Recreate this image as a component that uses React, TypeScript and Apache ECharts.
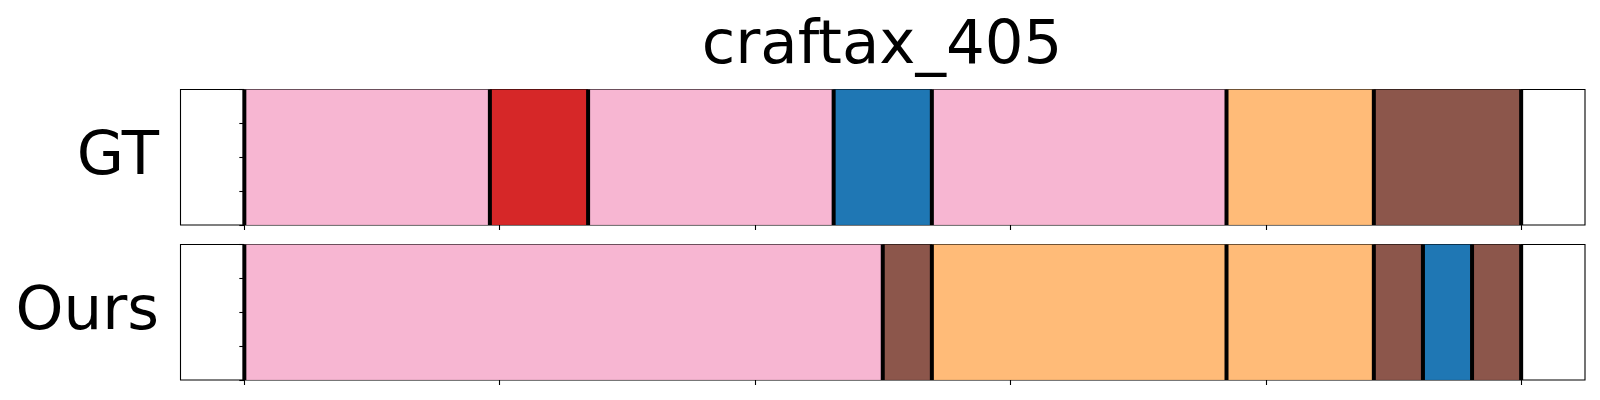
import React, { useEffect, useRef } from "react";
import * as echarts from "echarts";

// ---- data (time steps) ----
const TOTAL_STEPS = 26;
const X_TICKS = [0, 5.2, 10.4, 15.6, 20.8, 26];
const Y_TICKS_INTERVAL = 0.25;

const gtStarts = [0, 5, 7, 12, 14, 20, 23];
const gtEnds = [5, 7, 12, 14, 20, 23, 26];
const gtLabels = ["pink", "red", "pink", "blue", "pink", "orange", "brown"];

const oursStarts = [0, 13, 14, 20, 23, 24, 25];
const oursEnds = [13, 14, 20, 23, 24, 25, 26];
const oursLabels = ["pink", "brown", "orange", "orange", "brown", "blue", "brown"];

const rowNames = ["GT", "Ours"];
const TITLE = "craftax_405";

const COLORS: Record<string, string> = {
  pink: "#f7b6d2",
  red: "#d62728",
  blue: "#1f77b4",
  orange: "#ffbb78",
  brown: "#8c564b",
};

const FONT = "DejaVu Sans";

function segData(starts: number[], ends: number[], labels: string[]) {
  return starts.map((s, i) => ({
    value: [s, ends[i]],
    itemStyle: { color: COLORS[labels[i]] },
  }));
}

function boundaryData(starts: number[], ends: number[]) {
  const set = Array.from(new Set([...starts, ...ends])).sort((a, b) => a - b);
  return set.map((b) => [b, 0]);
}

export default function App() {
  const ref = useRef<HTMLDivElement>(null);

  useEffect(() => {
    if (!ref.current) return;
    const chart = echarts.init(ref.current, undefined, { renderer: "svg" });

    const grids = [
      { left: 180.5, top: 89.5, width: 1404.5, height: 135.5 },
      { left: 180.5, top: 244.5, width: 1404.5, height: 135.5 },
    ];

    const margin = TOTAL_STEPS * 0.05;

    const xAxes = grids.map((_, i) => ({
      type: "value",
      gridIndex: i,
      min: -margin,
      max: TOTAL_STEPS + margin,
      axisLine: { show: false },
      axisTick: {
        show: true,
        length: 5,
        lineStyle: { color: "#000", width: 1.1 },
        customValues: X_TICKS,
      },
      axisLabel: { show: false, customValues: X_TICKS },
      splitLine: { show: false },
    }));

    const yAxes = grids.map((_, i) => ({
      type: "value",
      gridIndex: i,
      min: 0,
      max: 1,
      interval: Y_TICKS_INTERVAL,
      axisLine: { show: false },
      axisTick: { show: true, length: 5, lineStyle: { color: "#000", width: 1.1 } },
      axisLabel: { show: false },
      splitLine: { show: false },
    }));

    const segRender = (params: any, api: any) => {
      const s = api.value(0);
      const e = api.value(1);
      const p0 = api.coord([s, 1]);
      const p1 = api.coord([e, 0]);
      return {
        type: "rect",
        shape: { x: p0[0], y: p0[1], width: p1[0] - p0[0], height: p1[1] - p0[1] },
        style: { fill: api.visual("color"), stroke: "rgba(0,0,0,0.12)", lineWidth: 1 },
      };
    };

    const lineRender = (params: any, api: any) => {
      const x = api.value(0);
      const p0 = api.coord([x, 1]);
      const p1 = api.coord([x, 0]);
      return {
        type: "line",
        shape: { x1: p0[0], y1: p0[1], x2: p1[0], y2: p1[1] },
        style: { stroke: "#000", lineWidth: 4 },
      };
    };

    const rows = [
      { starts: gtStarts, ends: gtEnds, labels: gtLabels },
      { starts: oursStarts, ends: oursEnds, labels: oursLabels },
    ];

    const series: any[] = [];
    rows.forEach((r, i) => {
      series.push({
        type: "custom",
        xAxisIndex: i,
        yAxisIndex: i,
        renderItem: segRender,
        encode: { x: [0, 1] },
        data: segData(r.starts, r.ends, r.labels),
        z: 2,
        clip: false,
      });
      series.push({
        type: "custom",
        xAxisIndex: i,
        yAxisIndex: i,
        renderItem: lineRender,
        encode: { x: 0, y: 1 },
        data: boundaryData(r.starts, r.ends),
        z: 3,
        clip: false,
      });
    });

    const graphics: any[] = [
      {
        type: "text",
        x: 882,
        y: 41,
        style: {
          text: TITLE,
          font: `61px '${FONT}'`,
          fill: "#000",
          align: "center",
          verticalAlign: "middle",
        },
      },
      ...rowNames.map((name, i) => ({
        type: "text",
        x: 159,
        y: grids[i].top + grids[i].height / 2 - 4.5,
        style: {
          text: name,
          font: `61px '${FONT}'`,
          fill: "#000",
          align: "right",
          verticalAlign: "middle",
        },
      })),
    ];

    chart.setOption({
      animation: false,
      backgroundColor: "#fff",
      grid: grids.map((g) => ({
        ...g,
        show: true,
        borderColor: "#000",
        borderWidth: 1.1,
        backgroundColor: "transparent",
      })),
      xAxis: xAxes,
      yAxis: yAxes,
      series,
      graphic: graphics,
    });

    return () => chart.dispose();
  }, []);

  return (
    <div
      ref={ref}
      style={{ position: "absolute", left: 0, top: 0, width: 1600, height: 400 }}
    />
  );
}
